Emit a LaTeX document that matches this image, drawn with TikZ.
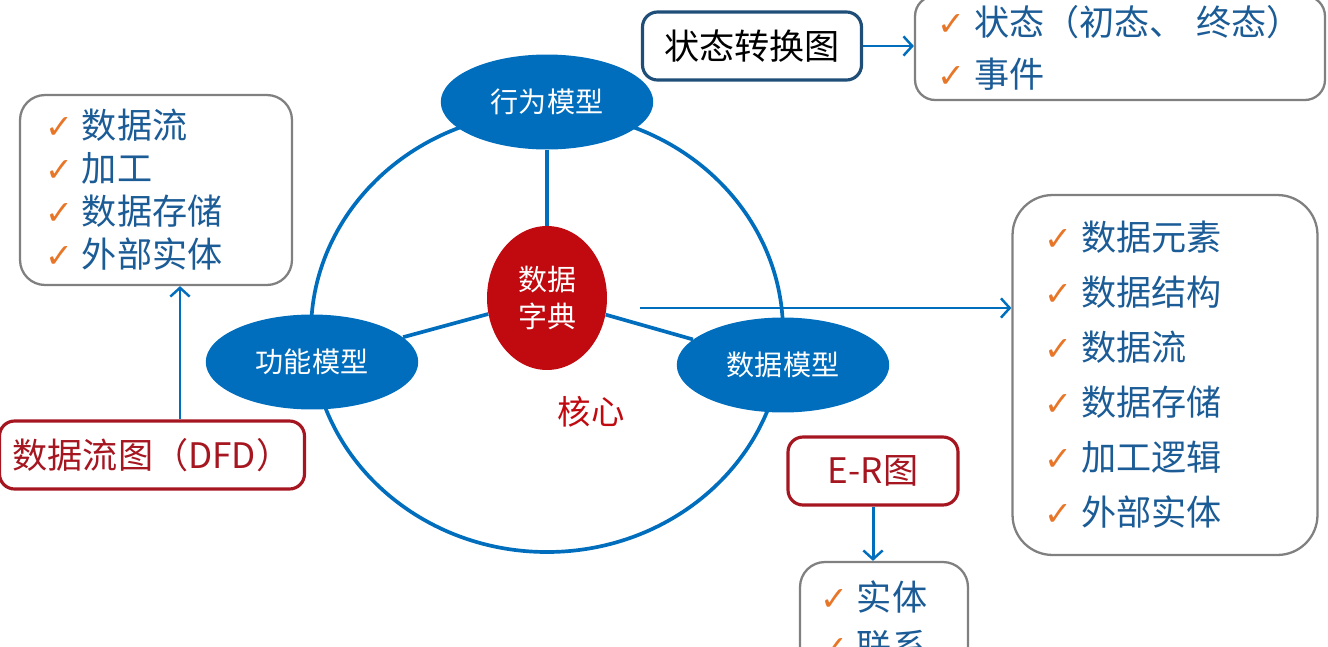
\documentclass[tikz,border=0pt]{standalone}
\usepackage{fontspec}
\setmainfont{Noto Sans CJK SC}
\newfontfamily\checkfont{DejaVu Sans}
\usepackage{xcolor}
\usetikzlibrary{positioning, arrows.meta, shapes.geometric}

\definecolor{modelblue}{RGB}{0,110,189}   % ellipses and links
\definecolor{dictred}{RGB}{192,10,16}     % data dictionary
\definecolor{itemblue}{RGB}{28,92,150}    % list items
\definecolor{chkorange}{RGB}{232,118,40}  % check marks
\definecolor{boxgray}{RGB}{128,128,128}   % list frames
\definecolor{titlered}{RGB}{165,22,32}    % DFD / E-R frames
\definecolor{statenavy}{RGB}{31,78,121}   % state diagram frame

\newcommand\chk{{\checkfont\color{chkorange}\fontsize{19pt}{19pt}\selectfont ✓}\hspace{0.18cm}}

\begin{document}
\begin{tikzpicture}[x=0.02cm, y=-0.02cm,
  model/.style={ellipse, fill=modelblue, text=white, inner sep=0pt,
    minimum width=4.25cm, minimum height=1.9cm, font=\fontsize{16pt}{18pt}\selectfont},
  listbox/.style={draw=boxgray, line width=1.3pt, text=itemblue, align=left},
  titlebox/.style={draw=titlered, line width=1.8pt, rounded corners=0.3cm, text=titlered,
    minimum height=1.36cm, font=\fontsize{20pt}{24pt}\selectfont},
  link/.style={draw=modelblue, line width=2.1pt},
  arr/.style={draw=modelblue, line width=1.7pt, -{Straight Barb[length=5pt, width=11pt, line width=1.4pt]}}]

  \useasboundingbox (0,0) rectangle (1328,646);
  \clip (0,0) rectangle (1328,646);

  % Outer ring
  \draw[link] (547,332) ellipse [x radius=236, y radius=220];

  % Core and models
  \node[ellipse, fill=dictred, text=white, inner sep=0pt, minimum width=2.4cm, minimum height=2.88cm,
    align=center, font=\fontsize{16.5pt}{21pt}\selectfont] (dict) at (547,298) {数据\\字典};
  \node[model] (behav) at (547,102) {行为模型};
  \node[model] (func)  at (312,362) {功能模型};
  \node[model] (datam) at (783,365) {数据模型};
  \node[text=dictred, font=\fontsize{19pt}{22pt}\selectfont] (core) at (591,412) {核心};

  \draw[link] (behav) -- (dict);
  \draw[link] (dict) -- (func);
  \draw[link] (dict) -- (datam);

  % Lists
  \node[listbox, rounded corners=0.5cm, minimum width=5.44cm, minimum height=3.8cm,
    text width=4.44cm, inner xsep=0.5cm, font=\fontsize{20pt}{0.86cm}\selectfont] (lbox) at (156,190)
    {\chk 数据流\\ \chk 加工\\ \chk 数据存储\\ \chk 外部实体};
  \node[listbox, rounded corners=0.8cm, minimum width=6.1cm, minimum height=7.2cm,
    text width=4.82cm, inner xsep=0.64cm, font=\fontsize{20pt}{1.1cm}\selectfont] (rbox) at (1165,375)
    {\chk 数据元素\\ \chk 数据结构\\ \chk 数据流\\ \chk 数据存储\\ \chk 加工逻辑\\ \chk 外部实体};
  \node[listbox, rounded corners=0.4cm, minimum width=8.2cm, minimum height=2.08cm,
    text width=7.32cm, inner xsep=0.44cm, font=\fontsize{20pt}{1.04cm}\selectfont] (tbox) at (1120,48)
    {\chk 状态（初态、 终态）\\ \chk 事件};
  \node[listbox, rounded corners=0.5cm, minimum width=3.36cm, minimum height=2.4cm,
    text width=2.56cm, inner xsep=0.4cm, font=\fontsize{20pt}{0.98cm}\selectfont] (ebox) at (884,622)
    {\chk 实体\\ \chk 联系};

  % Diagram kinds
  \node[draw=statenavy, line width=1.8pt, rounded corners=0.3cm, minimum width=4.38cm,
    minimum height=1.36cm, font=\fontsize{20pt}{24pt}\selectfont] (state) at (752,46) {状态转换图};
  \node[titlebox, minimum width=6.1cm] (dfd) at (152,455) {数据流图（DFD）};
  \node[titlebox, minimum width=3.4cm] (er) at (873,471) {E-R图};

  % Arrows
  \coordinate (dstart) at (640,308);
  \draw[arr] (dstart) -- (dstart -| rbox.west);
  \draw[arr] (state.east) -- (state.east -| tbox.west);
  \draw[arr] ([xshift=0.56cm]dfd.north) -- ([xshift=0.56cm]dfd.north |- lbox.south);
  \draw[arr] (er.south) -- (er.south |- ebox.north);
\end{tikzpicture}
\end{document}
